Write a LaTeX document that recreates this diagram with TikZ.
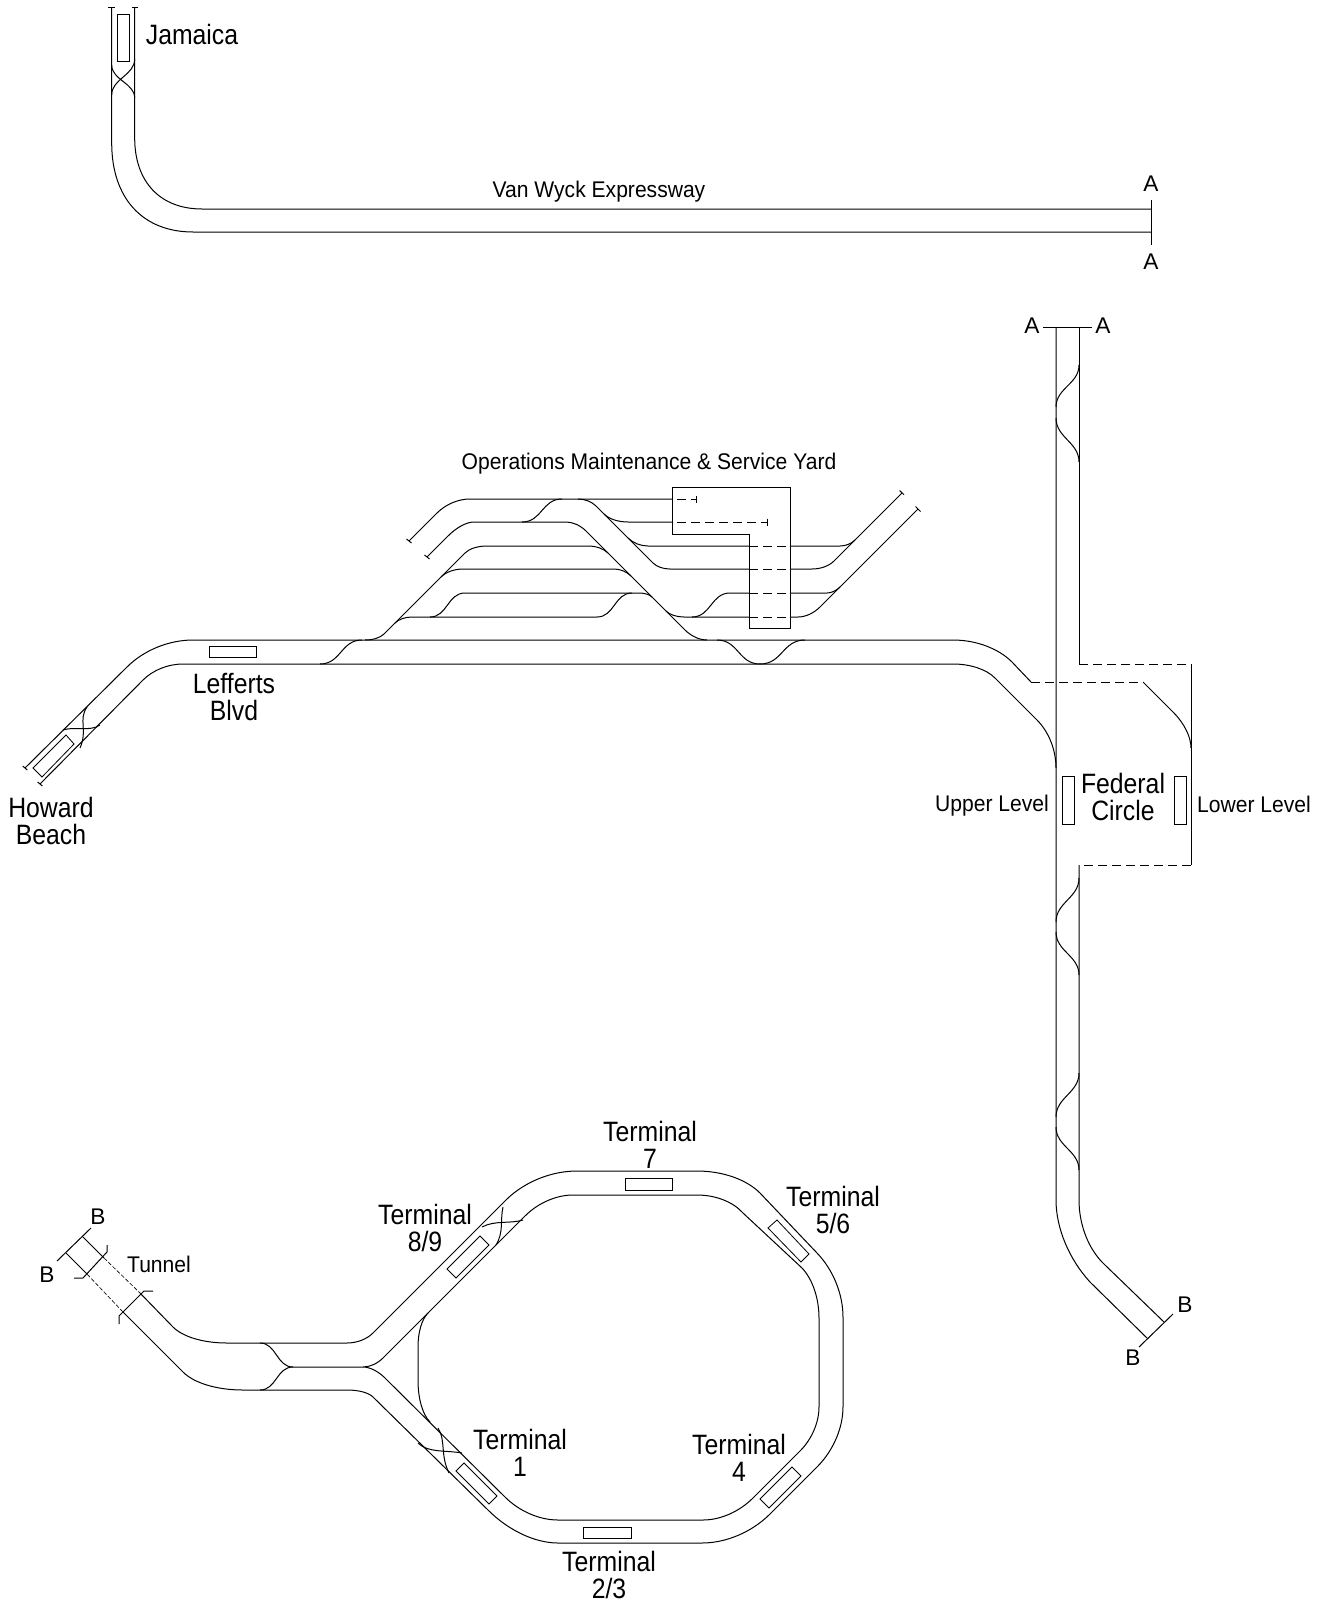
\documentclass[tikz,border=0pt]{standalone}
\usepackage{graphicx}
\usepackage{fontspec}
\setmainfont{Liberation Sans}
\usetikzlibrary{calc}
% bend: start, corner, end
\newcommand\Bn[3]{.. controls ($(#1)!.62!(#2)$) and ($(#3)!.62!(#2)$) .. (#3)}
% S curve with horizontal tangents
\newcommand\SH[4]{(#1,#2) .. controls ({#1+.5*(#3-#1)},#2) and ({#3-.5*(#3-#1)},#4) .. (#3,#4)}
% S curve with vertical tangents
\newcommand\SV[4]{(#1,#2) .. controls (#1,{#2+.45*(#4-#2)}) and (#3,{#4-.45*(#4-#2)}) .. (#3,#4)}
\newcommand\sqb[1]{\scalebox{.885}[1]{#1}}
\newcommand\sqs[1]{\scalebox{.93}[1]{#1}}
\tikzset{
  trk/.style={line width=.75pt,black},
  dsh/.style={trk,dash pattern=on 6.5pt off 4pt},
  tdsh/.style={line width=.5pt,black,dash pattern=on 3pt off 1.5pt},
  stn/.style={line width=.6pt,black},
  big/.style={inner sep=0pt,align=center,font=\fontsize{21}{20.25}\selectfont},
  small/.style={inner sep=0pt,align=center,font=\fontsize{17}{18}\selectfont}
}
\begin{document}
\begin{tikzpicture}[x=.75pt,y=-.75pt]
\useasboundingbox (0,0) rectangle (1325,1602);
\begin{scope}[trk]
% --- Jamaica / Van Wyck ---
\draw (111.7,8) -- (111.7,143) \Bn{111.7,143}{111.7,232}{193,232} -- (1151,232);
\draw (134.7,8) -- (134.7,138) \Bn{134.7,138}{134.7,209}{202,209} -- (1151,209);
\draw (108,8) -- (115,8) (131.5,8) -- (138,8);
\draw \SV{111.7}{65}{134.7}{98};
\draw \SV{134.7}{59}{111.7}{95};
\draw (1151,200) -- (1151,245);
% --- Main line ---
\draw (25,768) -- (127,667) \Bn{127,667}{154,640}{193,640} -- (953,640) \Bn{953,640}{990,640}{1012,662} -- (1031,682);
\draw[dsh] (1031,682) -- (1143,682);
\draw (1143,682) -- (1173,712) \Bn{1173,712}{1191,730}{1191,748};
\draw (40,784) -- (143,680) \Bn{143,680}{159,664}{183,664} -- (953,664) \Bn{953,664}{981,664}{995,678} -- (1037,720) \Bn{1037,720}{1056,739}{1056,768};
\draw (22.7,766) -- (27.3,770) (37.6,782) -- (42.4,786);
\draw (63,730) .. controls (75,726) and (90,732) .. (100,725);
\draw (87,707) .. controls (78,720) and (88,730) .. (80,748);
\draw \SH{320}{664}{362}{640};
\draw \SH{717}{640}{760}{664};
\draw \SH{760}{664}{805}{640};
% --- Yard tracks ---
\draw (409,541) -- (437,513) \Bn{437,513}{451,499}{470,499} -- (672,499);
\draw (427,557) -- (448,536) \Bn{448,536}{462,522}{474,522} -- (566,522) \Bn{566,522}{577,522}{586,531} -- (685,630) \Bn{685,630}{695,640}{707,640};
\draw (406.5,539) -- (411.5,543) (424.5,555) -- (429.5,559);
\draw (578,499) \Bn{578,499}{589,499}{596,506} -- (653,563) \Bn{653,563}{659,569}{670,569} -- (749,569);
\draw \SH{522}{522}{562}{499};
\draw (365,640) \Bn{365,640}{378,640}{384,634} -- (465,553) \Bn{465,553}{472,546}{487,546} -- (588,546) \Bn{588,546}{601,546}{608,553};
\draw (604,514) \Bn{604,514}{612,522}{628,522} -- (672,522);
\draw (628,538) \Bn{628,538}{636,546}{648,546} -- (749,546);
\draw (441,577) \Bn{441,577}{449,569}{463,569} -- (614,569) \Bn{614,569}{624,569}{631,576};
\draw (395,623) \Bn{395,623}{401,617}{412,617} -- (597,617);
\draw \SH{597}{617}{632}{593} -- (639,593) \Bn{639,593}{648,593}{652,597};
\draw \SH{430}{617}{465}{593} -- (632,593);
\draw (666,611) \Bn{666,611}{672,617}{684,617} -- (749,617);
\draw \SH{692}{617}{730}{593} -- (749,593);
\draw[dsh] (749,546) -- (790,546);
\draw[dsh] (749,569) -- (790,569);
\draw[dsh] (749,593) -- (790,593);
\draw[dsh] (749,617) -- (790,617);
\draw (790,546) -- (840,546) \Bn{840,546}{849,546}{855,540};
\draw (790,569) -- (812,569) \Bn{812,569}{826,569}{834,561} -- (902,493);
\draw (790,593) -- (827,593) \Bn{827,593}{834,593}{840,587};
\draw (790,617) -- (798,617) \Bn{798,617}{810,617}{820,607} -- (918,509);
\draw (899.5,490.5) -- (904,494.7) (915.5,506.5) -- (920.5,511.5);
\draw (672,487) -- (790,487) -- (790,628) -- (749,628) -- (749,534) -- (672,534) -- cycle;
\draw[dsh] (677,499) -- (696,499);
\draw[dsh] (677,522) -- (767,522);
\draw (696,495.5) -- (696,502.5) (767,518.5) -- (767,525.5);
% --- Federal Circle vertical ---
\draw (1056,327) -- (1056,1200) \Bn{1056,1200}{1056,1245}{1090,1282} -- (1148,1339);
\draw (1079,327) -- (1079,664);
\draw[dsh] (1079,664) -- (1191,664);
\draw (1191,664) -- (1191,865);
\draw[dsh] (1191,865) -- (1079,865);
\draw (1079,865) -- (1079,1200) \Bn{1079,1200}{1079,1241}{1105,1265} -- (1164,1322);
\draw (1043,327) -- (1092,327);
\draw (1139,1347) -- (1173,1314);
\draw \SV{1079}{365}{1056}{407};
\draw \SV{1056}{418}{1079}{462};
\draw \SV{1079}{878}{1056}{922};
\draw \SV{1056}{932}{1079}{975};
\draw \SV{1079}{1073}{1056}{1117};
\draw \SV{1056}{1127}{1079}{1170};
% --- Terminal loop ---
\draw (57,1261) -- (91,1228);
\draw (82,1236) -- (104,1258);
\draw[tdsh] (104,1258) -- (140,1293);
\draw (140,1293) -- (173,1327) \Bn{173,1327}{189,1343}{227,1343} -- (347,1343) \Bn{347,1343}{363,1343}{373,1333} -- (507,1199) \Bn{507,1199}{536,1171}{577,1171} -- (697,1171) \Bn{697,1171}{738,1171}{760,1193} -- (817,1253) \Bn{817,1253}{843,1280}{843,1317} -- (843,1407) \Bn{843,1407}{843,1441}{817,1467} -- (770,1514) \Bn{770,1514}{741,1543}{702,1543} -- (558,1543) \Bn{558,1543}{521,1543}{488,1510} -- (373,1397) \Bn{373,1397}{366,1390}{347,1390} -- (243,1390) \Bn{243,1390}{201,1390}{183,1372} -- (123,1312);
\draw[tdsh] (123,1312) -- (87,1274);
\draw (87,1274) -- (66,1253);
\draw (293,1367) -- (363,1367) \Bn{363,1367}{374,1367}{383,1358} -- (525,1216) \Bn{525,1216}{546,1195}{573,1195} -- (697,1195) \Bn{697,1195}{727,1195}{743,1213} -- (802,1268) \Bn{802,1268}{819,1286}{819,1318} -- (819,1407) \Bn{819,1407}{819,1432}{800,1451} -- (753,1498) \Bn{753,1498}{731,1520}{703,1520} -- (558,1520) \Bn{558,1520}{528,1520}{505,1497} -- (387,1380) \Bn{387,1380}{375,1367}{363,1367};
\draw (428,1313) \Bn{428,1313}{418,1323}{418,1347} -- (418,1380) \Bn{418,1380}{418,1410}{430,1422};
\draw \SH{260}{1343}{293}{1367};
\draw \SH{260}{1390}{293}{1367};
\draw (482,1227) .. controls (495,1220) and (510,1224) .. (523,1220);
\draw (503,1207) .. controls (500,1220) and (504,1232) .. (496,1245);
\draw (418,1443) .. controls (428,1453) and (445,1450) .. (462,1453);
\draw (438,1428) .. controls (446,1440) and (440,1455) .. (449,1473);
\draw (74,1278) -- (83,1278) -- (107,1252) -- (107,1245);
\draw (153,1291) -- (144,1291) -- (119,1316) -- (119,1324);
\end{scope}
% --- Stations ---
\begin{scope}[stn]
\draw (117.3,14) rectangle (129.3,61);
\draw (66,735) -- (74,744) -- (42,777) -- (33,768) -- cycle;
\draw (209,646) rectangle (256,657);
\draw (1062,776) rectangle (1074,824);
\draw (1174,776) rectangle (1186,824);
\draw (480,1236) -- (489,1245) -- (456,1278) -- (447,1269) -- cycle;
\draw (625,1178) rectangle (672,1190);
\draw (777,1220) -- (768,1228) -- (801,1262) -- (809,1254) -- cycle;
\draw (792,1467) -- (801,1476) -- (769,1508) -- (760,1499) -- cycle;
\draw (583,1527) rectangle (631,1538);
\draw (464,1463) -- (456,1471) -- (489,1504) -- (497,1496) -- cycle;
\end{scope}
% --- Labels ---
\node[big] (jam) at (192,34) {\sqb{Jamaica}};
\node[small] (vw) at (599,191.5) {\sqs{Van Wyck Expressway}};
\node[small] (a1) at (1151,184) {A};
\node[small] (a2) at (1151,262) {A};
\node[small] (a3) at (1032,326) {A};
\node[small] (a4) at (1103,326) {A};
\node[small] (oms) at (649,463.5) {\sqs{Operations Maintenance \& Service Yard}};
\node[big] (lef) at (234,697) {\sqb{Lefferts}\\\sqb{Blvd}};
\node[big] (how) at (51,821) {\sqb{Howard}\\\sqb{Beach}};
\node[big] (fed) at (1123,797) {\sqb{Federal}\\\sqb{Circle}};
\node[small] (up) at (992,806) {\sqs{Upper Level}};
\node[small] (lo) at (1254,804) {\sqs{Lower Level}};
\node[small] (b1) at (1185,1305) {B};
\node[small] (b2) at (1133,1358) {B};
\node[small] (b3) at (98,1217) {B};
\node[small] (b4) at (47,1275) {B};
\node[small] (tun) at (159,1264) {\sqs{Tunnel}};
\node[big] (t7) at (650,1145) {\sqb{Terminal}\\\sqb{7}};
\node[big] (t56) at (833,1210) {\sqb{Terminal}\\\sqb{5/6}};
\node[big] (t89) at (425,1228) {\sqb{Terminal}\\\sqb{8/9}};
\node[big] (t1) at (520,1453) {\sqb{Terminal}\\\sqb{1}};
\node[big] (t4) at (739,1458) {\sqb{Terminal}\\\sqb{4}};
\node[big] (t23) at (609,1574.5) {\sqb{Terminal}\\\sqb{2/3}};
\end{tikzpicture}
\end{document}
